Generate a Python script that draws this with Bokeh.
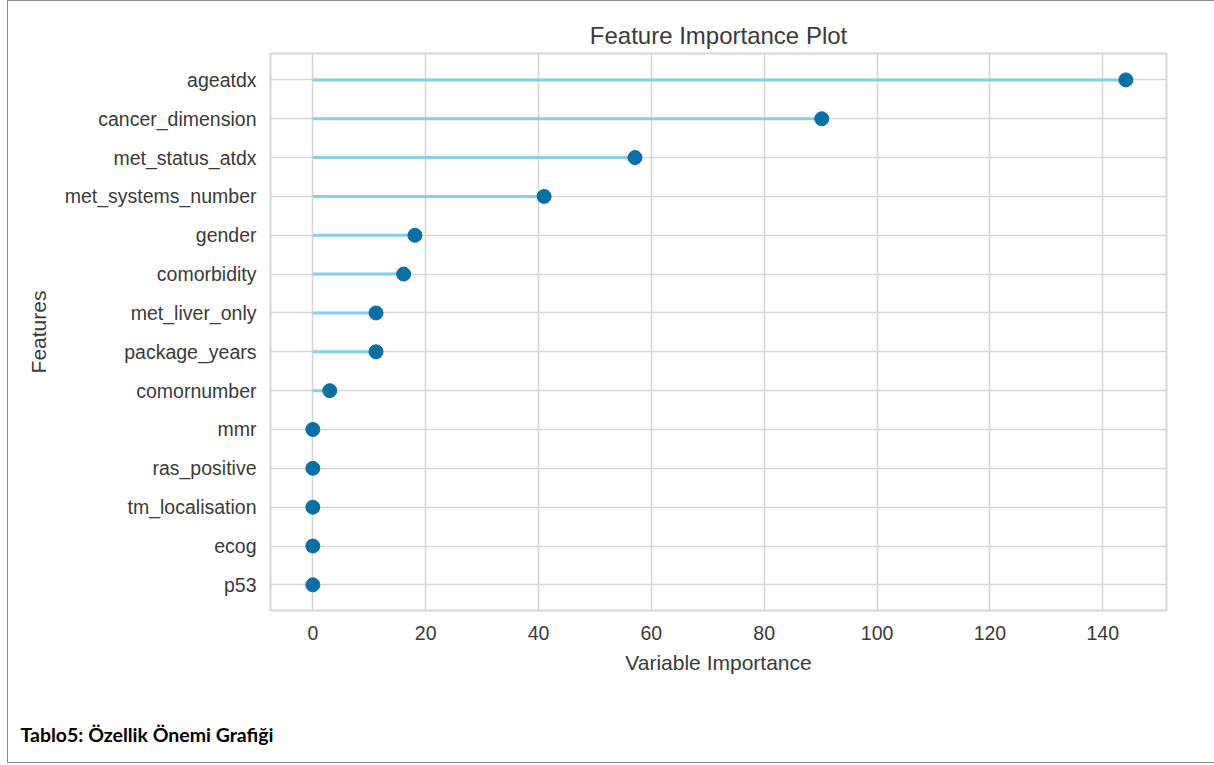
from bokeh.plotting import figure
from bokeh.models import Range1d, FixedTicker, Title
from bokeh.embed import file_html
from bokeh.resources import INLINE

# Feature importances, listed top to bottom
features = ["ageatdx", "cancer_dimension", "met_status_atdx", "met_systems_number",
            "gender", "comorbidity", "met_liver_only", "package_years",
            "comornumber", "mmr", "ras_positive", "tm_localisation", "ecog", "p53"]
importance = [144.1, 90.2, 57.1, 41.0, 18.1, 16.1, 11.2, 11.2, 3.0, 0.0, 0.0, 0.0, 0.0, 0.0]
x_ticks = [0, 20, 40, 60, 80, 100, 120, 140]

title_text = "Feature Importance Plot"
x_label = "Variable Importance"
y_label = "Features"
caption = "Tablo5: Özellik Önemi Grafiği"

FONT = "Liberation Sans"
TEXT_COLOR = "#3a3a3a"
GRID_COLOR = "#d6d6d6"

# frame placement on the page
LEFT, TOP, FW, FH = 270, 53, 896, 557
W, H = 1214, 765

n = len(features)
ypos = [n - 1 - i for i in range(n)]

p = figure(
    frame_width=FW, frame_height=FH,
    min_border_left=LEFT, min_border_right=W - LEFT - FW,
    min_border_top=TOP, min_border_bottom=H - TOP - FH,
    x_range=Range1d(-7.5, 151.3),
    y_range=Range1d(-0.66, n - 1 + 0.68),
    output_backend="svg", toolbar_location=None,
    title=title_text,
)
p.background_fill_color = "white"
p.border_fill_color = "white"
p.outline_line_color = GRID_COLOR
p.outline_line_width = 2

p.title.align = "center"
p.title.text_font = FONT
p.title.text_font_size = "24px"
p.title.text_font_style = "normal"
p.title.text_color = TEXT_COLOR
p.title.offset = 0
p.title.standoff = 9

# axes
p.xaxis.ticker = FixedTicker(ticks=x_ticks)
p.yaxis.ticker = FixedTicker(ticks=ypos)
p.yaxis.major_label_overrides = {y: f for y, f in zip(ypos, features)}
for ax in (p.xaxis, p.yaxis):
    ax.axis_line_color = None
    ax.major_tick_line_color = None
    ax.minor_tick_line_color = None
    ax.major_label_text_font = FONT
    ax.major_label_text_font_size = "19.5px"
    ax.major_label_text_color = TEXT_COLOR
    ax.axis_label_text_font = FONT
    ax.axis_label_text_font_size = "21px"
    ax.axis_label_text_font_style = "normal"
    ax.axis_label_text_color = TEXT_COLOR
p.xaxis.axis_label = x_label
p.yaxis.axis_label = y_label
p.xaxis.major_label_standoff = 9
p.yaxis.major_label_standoff = 8
p.xaxis.axis_label_standoff = 8
p.yaxis.axis_label_standoff = 12

p.xgrid.ticker = FixedTicker(ticks=x_ticks)
p.ygrid.ticker = FixedTicker(ticks=ypos)
for g in (p.xgrid, p.ygrid):
    g.grid_line_color = GRID_COLOR
    g.grid_line_width = 1.6

# lollipop stems and heads
p.segment(x0=[0] * n, y0=ypos, x1=importance, y1=ypos,
          line_color="#87ceeb", line_width=3)
p.scatter(x=importance, y=ypos, size=14, marker="circle",
          fill_color="#0a6fa5", line_color="#0a6fa5")

# caption under the chart, shifted to the left edge of the page
p.add_layout(Title(text=caption, align="left", offset=20 - LEFT, standoff=88,
                   text_font="Lato", text_font_style="bold",
                   text_font_size="19.5px", text_color="#000000"), "below")

# thin gray box around the page
p.stylesheets = [
    ":host { position: relative; }"
    ":host::after { content: ''; position: absolute; left: 7px; top: 0px;"
    " width: 1207px; height: 763px; box-sizing: border-box;"
    " border-left: 1.5px solid #8a8a8a; border-top: 1.5px solid #8a8a8a;"
    " border-bottom: 1.5px solid #8a8a8a; pointer-events: none; }"
]

open("out.html", "w").write(file_html(p, INLINE))
